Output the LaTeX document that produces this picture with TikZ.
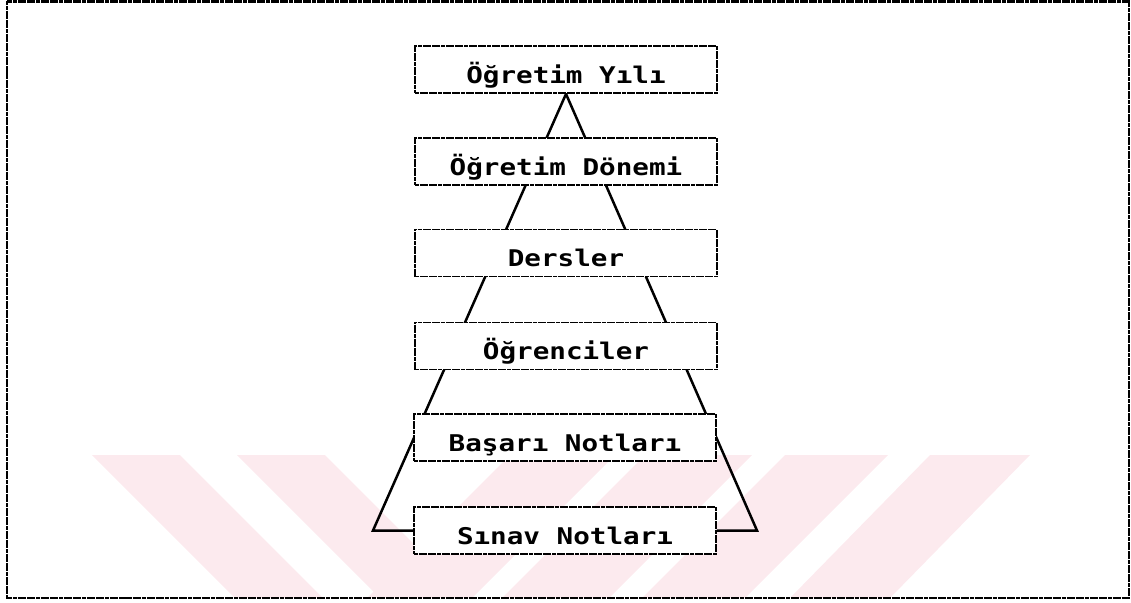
\documentclass[tikz,border=0pt]{standalone}
\usepackage{fontspec}
\usetikzlibrary{backgrounds}
\newfontfamily\dotfont[FakeStretch=1.2]{DejaVu Sans Mono}
\definecolor{wm}{RGB}{252,234,238}
\begin{document}
\begin{tikzpicture}[x=1pt,y=-1pt,
  box/.style={draw, fill=white, line width=1.9pt, dash pattern=on 4pt off 0.6pt,
    minimum width=302pt, minimum height=47pt, inner sep=0pt,
    text height=27pt, text depth=0pt,
    font=\dotfont\bfseries\fontsize{23}{26}\selectfont},
  edge/.style={line width=2.5pt, line join=miter},
  frame/.style={line width=2.2pt, dash pattern=on 4pt off 0.6pt}]
\useasboundingbox (0,0) rectangle (1131,602);
\node[box] (y1) at (566,69.5) {Öğretim Yılı};
\node[box] (y2) at (566,161.5) {Öğretim Dönemi};
\node[box] (y3) at (566,253) {Dersler};
\node[box] (y4) at (566,346) {Öğrenciler};
\node[box] (y5) at (565,437.5) {Başarı Notları};
\node[box] (y6) at (565,530.5) {Sınav Notları};
\coordinate (bl) at (373,530.5);
\coordinate (br) at (757,530.5);
\begin{pgfonlayer}{background}
  \fill[wm] (92,455) -- (180,455) -- (323,598) -- (235,598) -- cycle;
  \fill[wm] (237,455) -- (325,455) -- (468,598) -- (380,598) -- cycle;
  \fill[wm] (510,455) -- (615,455) -- (472,598) -- (367,598) -- cycle;
  \fill[wm] (645,455) -- (752,455) -- (609,598) -- (502,598) -- cycle;
  \fill[wm] (785,455) -- (888,455) -- (745,598) -- (642,598) -- cycle;
  \fill[wm] (930,455) -- (1030,455) -- (890,598) -- (790,598) -- cycle;
  \draw[edge] (y6.west) -- (bl) -- (y1.south) -- (br) -- (y6.east);
\end{pgfonlayer}
\draw[frame] (7,1.5) rectangle (1129,598);
\end{tikzpicture}
\end{document}
